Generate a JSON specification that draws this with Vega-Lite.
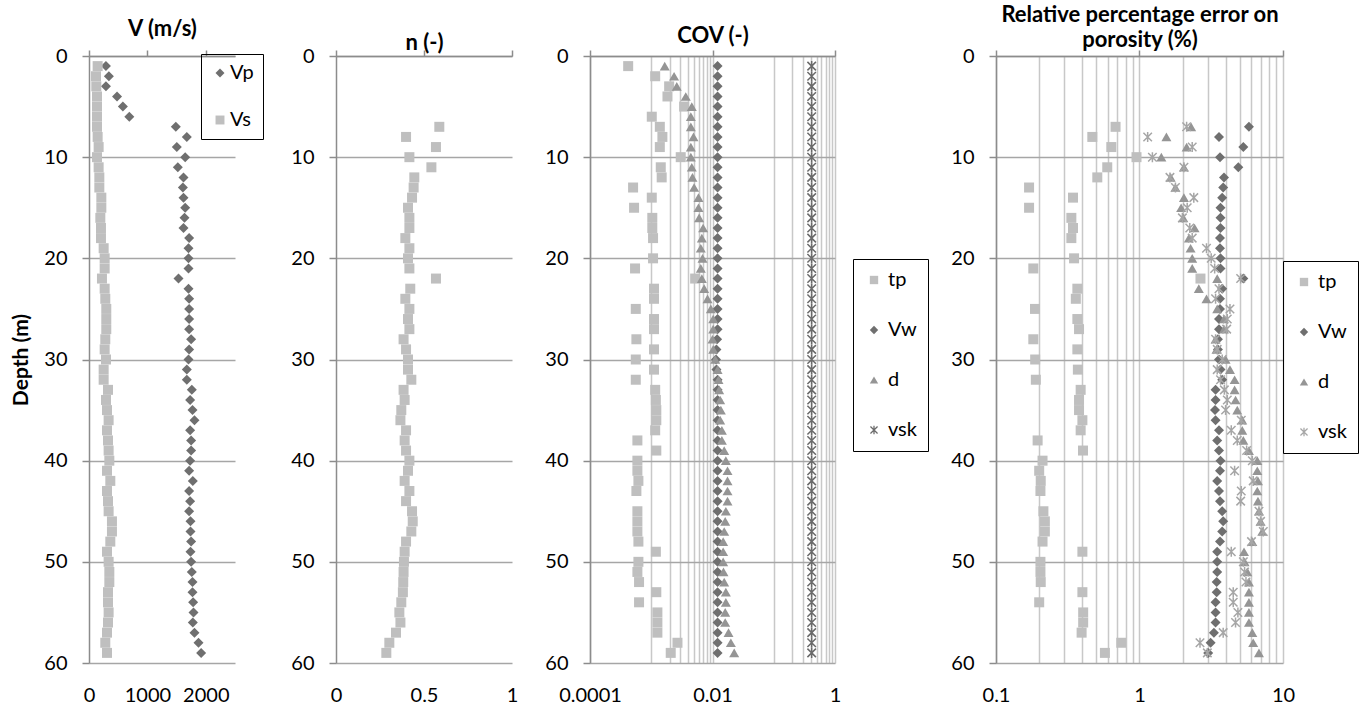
{
"$schema":"https://vega.github.io/schema/vega-lite/v6.json",
"background":"white",
"padding":{"left":10,"top":3,"right":5,"bottom":5},
"spacing":26,
"config":{
 "font":"Lato",
 "view":{"stroke":null},
 "axis":{"labelFont":"Lato","labelFontSize":20,"labelColor":"#000000","titleFont":"Lato","titleFontSize":22,"titleColor":"#000000","titleFontWeight":"bold","domainColor":"#8C8C8C","domainWidth":1.5,"tickColor":"#8C8C8C","tickWidth":1.5,"gridColor":"#C8C8C8","gridWidth":1.5,"gridOpacity":1,"labelFlush":false,"labelOverlap":false},
 "legend":{"labelFont":"Lato","labelFontSize":20,"labelColor":"#000000","strokeColor":"#000000","symbolStrokeWidth":0}
},
"resolve":{"scale":{"x":"independent","y":"independent","color":"independent","shape":"independent"},"legend":{"color":"independent","shape":"independent"}},
"datasets":{
"v":[
{"depth":1,"series":"Vp","value":290},{"depth":2,"series":"Vp","value":340},{"depth":3,"series":"Vp","value":290},{"depth":4,"series":"Vp","value":480},{"depth":5,"series":"Vp","value":580},{"depth":6,"series":"Vp","value":690},{"depth":7,"series":"Vp","value":1487},{"depth":8,"series":"Vp","value":1675},{"depth":9,"series":"Vp","value":1504},{"depth":10,"series":"Vp","value":1647},{"depth":11,"series":"Vp","value":1521},{"depth":12,"series":"Vp","value":1618},{"depth":13,"series":"Vp","value":1607},{"depth":14,"series":"Vp","value":1618},{"depth":15,"series":"Vp","value":1647},{"depth":16,"series":"Vp","value":1635},{"depth":17,"series":"Vp","value":1618},{"depth":18,"series":"Vp","value":1715},{"depth":19,"series":"Vp","value":1704},{"depth":20,"series":"Vp","value":1704},{"depth":21,"series":"Vp","value":1704},{"depth":22,"series":"Vp","value":1533},{"depth":23,"series":"Vp","value":1704},{"depth":24,"series":"Vp","value":1715},{"depth":25,"series":"Vp","value":1715},{"depth":26,"series":"Vp","value":1715},{"depth":27,"series":"Vp","value":1715},{"depth":28,"series":"Vp","value":1749},{"depth":29,"series":"Vp","value":1715},{"depth":30,"series":"Vp","value":1704},{"depth":31,"series":"Vp","value":1675},{"depth":32,"series":"Vp","value":1675},{"depth":33,"series":"Vp","value":1761},{"depth":34,"series":"Vp","value":1732},{"depth":35,"series":"Vp","value":1772},{"depth":36,"series":"Vp","value":1806},{"depth":37,"series":"Vp","value":1732},{"depth":38,"series":"Vp","value":1749},{"depth":39,"series":"Vp","value":1749},{"depth":40,"series":"Vp","value":1732},{"depth":41,"series":"Vp","value":1715},{"depth":42,"series":"Vp","value":1778},{"depth":43,"series":"Vp","value":1715},{"depth":44,"series":"Vp","value":1732},{"depth":45,"series":"Vp","value":1715},{"depth":46,"series":"Vp","value":1738},{"depth":47,"series":"Vp","value":1738},{"depth":48,"series":"Vp","value":1749},{"depth":49,"series":"Vp","value":1738},{"depth":50,"series":"Vp","value":1749},{"depth":51,"series":"Vp","value":1761},{"depth":52,"series":"Vp","value":1772},{"depth":53,"series":"Vp","value":1772},{"depth":54,"series":"Vp","value":1783},{"depth":55,"series":"Vp","value":1789},{"depth":56,"series":"Vp","value":1778},{"depth":57,"series":"Vp","value":1806},{"depth":58,"series":"Vp","value":1875},{"depth":59,"series":"Vp","value":1920},
{"depth":1,"series":"Vs","value":148},{"depth":2,"series":"Vs","value":120},{"depth":3,"series":"Vs","value":125},{"depth":4,"series":"Vs","value":137},{"depth":5,"series":"Vs","value":137},{"depth":6,"series":"Vs","value":137},{"depth":7,"series":"Vs","value":137},{"depth":8,"series":"Vs","value":148},{"depth":9,"series":"Vs","value":165},{"depth":10,"series":"Vs","value":137},{"depth":11,"series":"Vs","value":165},{"depth":12,"series":"Vs","value":177},{"depth":13,"series":"Vs","value":177},{"depth":14,"series":"Vs","value":211},{"depth":15,"series":"Vs","value":211},{"depth":16,"series":"Vs","value":194},{"depth":17,"series":"Vs","value":205},{"depth":18,"series":"Vs","value":205},{"depth":19,"series":"Vs","value":251},{"depth":20,"series":"Vs","value":268},{"depth":21,"series":"Vs","value":268},{"depth":22,"series":"Vs","value":222},{"depth":23,"series":"Vs","value":268},{"depth":24,"series":"Vs","value":279},{"depth":25,"series":"Vs","value":296},{"depth":26,"series":"Vs","value":296},{"depth":27,"series":"Vs","value":296},{"depth":28,"series":"Vs","value":279},{"depth":29,"series":"Vs","value":268},{"depth":30,"series":"Vs","value":291},{"depth":31,"series":"Vs","value":251},{"depth":32,"series":"Vs","value":251},{"depth":33,"series":"Vs","value":325},{"depth":34,"series":"Vs","value":291},{"depth":35,"series":"Vs","value":308},{"depth":36,"series":"Vs","value":336},{"depth":37,"series":"Vs","value":308},{"depth":38,"series":"Vs","value":325},{"depth":39,"series":"Vs","value":336},{"depth":40,"series":"Vs","value":348},{"depth":41,"series":"Vs","value":308},{"depth":42,"series":"Vs","value":365},{"depth":43,"series":"Vs","value":308},{"depth":44,"series":"Vs","value":325},{"depth":45,"series":"Vs","value":336},{"depth":46,"series":"Vs","value":393},{"depth":47,"series":"Vs","value":393},{"depth":48,"series":"Vs","value":365},{"depth":49,"series":"Vs","value":308},{"depth":50,"series":"Vs","value":336},{"depth":51,"series":"Vs","value":348},{"depth":52,"series":"Vs","value":348},{"depth":53,"series":"Vs","value":325},{"depth":54,"series":"Vs","value":325},{"depth":55,"series":"Vs","value":336},{"depth":56,"series":"Vs","value":325},{"depth":57,"series":"Vs","value":308},{"depth":58,"series":"Vs","value":279},{"depth":59,"series":"Vs","value":308}
],
"n":[
{"depth":7,"value":0.587},{"depth":8,"value":0.398},{"depth":9,"value":0.568},{"depth":10,"value":0.417},{"depth":11,"value":0.542},{"depth":12,"value":0.445},{"depth":13,"value":0.441},{"depth":14,"value":0.432},{"depth":15,"value":0.409},{"depth":16,"value":0.417},{"depth":17,"value":0.417},{"depth":18,"value":0.394},{"depth":19,"value":0.417},{"depth":20,"value":0.409},{"depth":21,"value":0.417},{"depth":22,"value":0.568},{"depth":23,"value":0.422},{"depth":24,"value":0.394},{"depth":25,"value":0.417},{"depth":26,"value":0.409},{"depth":27,"value":0.417},{"depth":28,"value":0.384},{"depth":29,"value":0.398},{"depth":30,"value":0.409},{"depth":31,"value":0.409},{"depth":32,"value":0.428},{"depth":33,"value":0.384},{"depth":34,"value":0.39},{"depth":35,"value":0.371},{"depth":36,"value":0.366},{"depth":37,"value":0.398},{"depth":38,"value":0.39},{"depth":39,"value":0.398},{"depth":40,"value":0.417},{"depth":41,"value":0.409},{"depth":42,"value":0.39},{"depth":43,"value":0.417},{"depth":44,"value":0.398},{"depth":45,"value":0.432},{"depth":46,"value":0.436},{"depth":47,"value":0.428},{"depth":48,"value":0.398},{"depth":49,"value":0.39},{"depth":50,"value":0.386},{"depth":51,"value":0.384},{"depth":52,"value":0.382},{"depth":53,"value":0.38},{"depth":54,"value":0.371},{"depth":55,"value":0.36},{"depth":56,"value":0.366},{"depth":57,"value":0.341},{"depth":58,"value":0.303},{"depth":59,"value":0.286}
],
"cov":[
{"depth":1,"series":"tp","value":0.00042},{"depth":2,"series":"tp","value":0.00116},{"depth":3,"series":"tp","value":0.00196},{"depth":4,"series":"tp","value":0.00184},{"depth":5,"series":"tp","value":0.00344},{"depth":6,"series":"tp","value":0.00102},{"depth":7,"series":"tp","value":0.00138},{"depth":8,"series":"tp","value":0.00152},{"depth":9,"series":"tp","value":0.00138},{"depth":10,"series":"tp","value":0.00303},{"depth":11,"series":"tp","value":0.00143},{"depth":12,"series":"tp","value":0.00148},{"depth":13,"series":"tp","value":0.000505},{"depth":14,"series":"tp","value":0.00102},{"depth":15,"series":"tp","value":0.000524},{"depth":16,"series":"tp","value":0.00104},{"depth":17,"series":"tp","value":0.00104},{"depth":18,"series":"tp","value":0.00107},{"depth":20,"series":"tp","value":0.00107},{"depth":21,"series":"tp","value":0.000544},{"depth":22,"series":"tp","value":0.00521},{"depth":23,"series":"tp","value":0.00111},{"depth":24,"series":"tp","value":0.00111},{"depth":25,"series":"tp","value":0.000559},{"depth":26,"series":"tp","value":0.00111},{"depth":27,"series":"tp","value":0.00111},{"depth":28,"series":"tp","value":0.000572},{"depth":29,"series":"tp","value":0.00111},{"depth":30,"series":"tp","value":0.000559},{"depth":31,"series":"tp","value":0.00111},{"depth":32,"series":"tp","value":0.000559},{"depth":33,"series":"tp","value":0.00116},{"depth":34,"series":"tp","value":0.00119},{"depth":35,"series":"tp","value":0.00121},{"depth":36,"series":"tp","value":0.00121},{"depth":37,"series":"tp","value":0.00116},{"depth":38,"series":"tp","value":0.000594},{"depth":39,"series":"tp","value":0.00121},{"depth":40,"series":"tp","value":0.000594},{"depth":41,"series":"tp","value":0.000594},{"depth":42,"series":"tp","value":0.000617},{"depth":43,"series":"tp","value":0.000572},{"depth":45,"series":"tp","value":0.000594},{"depth":46,"series":"tp","value":0.000594},{"depth":47,"series":"tp","value":0.000594},{"depth":48,"series":"tp","value":0.000617},{"depth":49,"series":"tp","value":0.00119},{"depth":50,"series":"tp","value":0.000617},{"depth":51,"series":"tp","value":0.000594},{"depth":52,"series":"tp","value":0.000632},{"depth":53,"series":"tp","value":0.00121},{"depth":54,"series":"tp","value":0.000632},{"depth":55,"series":"tp","value":0.00126},{"depth":56,"series":"tp","value":0.00126},{"depth":57,"series":"tp","value":0.00126},{"depth":58,"series":"tp","value":0.00268},{"depth":59,"series":"tp","value":0.00208},
{"depth":1,"series":"Vw","value":0.0121},{"depth":2,"series":"Vw","value":0.0121},{"depth":3,"series":"Vw","value":0.0121},{"depth":4,"series":"Vw","value":0.0121},{"depth":5,"series":"Vw","value":0.0121},{"depth":6,"series":"Vw","value":0.0121},{"depth":7,"series":"Vw","value":0.0121},{"depth":8,"series":"Vw","value":0.0121},{"depth":9,"series":"Vw","value":0.0121},{"depth":10,"series":"Vw","value":0.0121},{"depth":11,"series":"Vw","value":0.0121},{"depth":12,"series":"Vw","value":0.0121},{"depth":13,"series":"Vw","value":0.0121},{"depth":14,"series":"Vw","value":0.0121},{"depth":15,"series":"Vw","value":0.0121},{"depth":16,"series":"Vw","value":0.0121},{"depth":17,"series":"Vw","value":0.0121},{"depth":18,"series":"Vw","value":0.0121},{"depth":19,"series":"Vw","value":0.0121},{"depth":20,"series":"Vw","value":0.0121},{"depth":21,"series":"Vw","value":0.0121},{"depth":22,"series":"Vw","value":0.0121},{"depth":23,"series":"Vw","value":0.0121},{"depth":24,"series":"Vw","value":0.0121},{"depth":25,"series":"Vw","value":0.0121},{"depth":26,"series":"Vw","value":0.0121},{"depth":27,"series":"Vw","value":0.0121},{"depth":28,"series":"Vw","value":0.0119},{"depth":29,"series":"Vw","value":0.0116},{"depth":30,"series":"Vw","value":0.0114},{"depth":31,"series":"Vw","value":0.0116},{"depth":32,"series":"Vw","value":0.0121},{"depth":33,"series":"Vw","value":0.0121},{"depth":34,"series":"Vw","value":0.0121},{"depth":35,"series":"Vw","value":0.0121},{"depth":36,"series":"Vw","value":0.0121},{"depth":37,"series":"Vw","value":0.0121},{"depth":38,"series":"Vw","value":0.0121},{"depth":39,"series":"Vw","value":0.0121},{"depth":40,"series":"Vw","value":0.0121},{"depth":41,"series":"Vw","value":0.0121},{"depth":42,"series":"Vw","value":0.0121},{"depth":43,"series":"Vw","value":0.0121},{"depth":44,"series":"Vw","value":0.0121},{"depth":45,"series":"Vw","value":0.0121},{"depth":46,"series":"Vw","value":0.0121},{"depth":47,"series":"Vw","value":0.0121},{"depth":48,"series":"Vw","value":0.0121},{"depth":49,"series":"Vw","value":0.0121},{"depth":50,"series":"Vw","value":0.0121},{"depth":51,"series":"Vw","value":0.0121},{"depth":52,"series":"Vw","value":0.0121},{"depth":53,"series":"Vw","value":0.0121},{"depth":54,"series":"Vw","value":0.0121},{"depth":55,"series":"Vw","value":0.0121},{"depth":56,"series":"Vw","value":0.0121},{"depth":57,"series":"Vw","value":0.0121},{"depth":58,"series":"Vw","value":0.0121},{"depth":59,"series":"Vw","value":0.0121},
{"depth":1,"series":"d","value":0.00166},{"depth":2,"series":"d","value":0.00236},{"depth":3,"series":"d","value":0.00261},{"depth":4,"series":"d","value":0.00366},{"depth":5,"series":"d","value":0.00459},{"depth":6,"series":"d","value":0.00443},{"depth":7,"series":"d","value":0.00443},{"depth":8,"series":"d","value":0.00489},{"depth":9,"series":"d","value":0.00443},{"depth":10,"series":"d","value":0.00443},{"depth":11,"series":"d","value":0.00459},{"depth":12,"series":"d","value":0.00471},{"depth":13,"series":"d","value":0.00501},{"depth":14,"series":"d","value":0.0059},{"depth":15,"series":"d","value":0.0059},{"depth":16,"series":"d","value":0.00605},{"depth":17,"series":"d","value":0.00703},{"depth":18,"series":"d","value":0.0067},{"depth":19,"series":"d","value":0.00644},{"depth":20,"series":"d","value":0.00687},{"depth":21,"series":"d","value":0.00644},{"depth":22,"series":"d","value":0.0067},{"depth":23,"series":"d","value":0.00731},{"depth":24,"series":"d","value":0.00829},{"depth":25,"series":"d","value":0.0094},{"depth":26,"series":"d","value":0.01026},{"depth":27,"series":"d","value":0.01026},{"depth":28,"series":"d","value":0.01},{"depth":29,"series":"d","value":0.01026},{"depth":30,"series":"d","value":0.0111},{"depth":31,"series":"d","value":0.0121},{"depth":32,"series":"d","value":0.01254},{"depth":33,"series":"d","value":0.01285},{"depth":34,"series":"d","value":0.01334},{"depth":35,"series":"d","value":0.01368},{"depth":36,"series":"d","value":0.01334},{"depth":37,"series":"d","value":0.01422},{"depth":38,"series":"d","value":0.01422},{"depth":39,"series":"d","value":0.01552},{"depth":40,"series":"d","value":0.01652},{"depth":41,"series":"d","value":0.01758},{"depth":42,"series":"d","value":0.01758},{"depth":43,"series":"d","value":0.01758},{"depth":44,"series":"d","value":0.01758},{"depth":45,"series":"d","value":0.01652},{"depth":46,"series":"d","value":0.01611},{"depth":47,"series":"d","value":0.01552},{"depth":48,"series":"d","value":0.01493},{"depth":49,"series":"d","value":0.01493},{"depth":50,"series":"d","value":0.01493},{"depth":51,"series":"d","value":0.0151},{"depth":52,"series":"d","value":0.01552},{"depth":53,"series":"d","value":0.01652},{"depth":54,"series":"d","value":0.01652},{"depth":55,"series":"d","value":0.01611},{"depth":56,"series":"d","value":0.01611},{"depth":57,"series":"d","value":0.01827},{"depth":58,"series":"d","value":0.01995},{"depth":59,"series":"d","value":0.0226},
{"depth":1,"series":"vsk","value":0.416},{"depth":2,"series":"vsk","value":0.416},{"depth":3,"series":"vsk","value":0.416},{"depth":4,"series":"vsk","value":0.416},{"depth":5,"series":"vsk","value":0.416},{"depth":6,"series":"vsk","value":0.416},{"depth":7,"series":"vsk","value":0.416},{"depth":8,"series":"vsk","value":0.416},{"depth":9,"series":"vsk","value":0.416},{"depth":10,"series":"vsk","value":0.416},{"depth":11,"series":"vsk","value":0.416},{"depth":12,"series":"vsk","value":0.416},{"depth":13,"series":"vsk","value":0.416},{"depth":14,"series":"vsk","value":0.416},{"depth":15,"series":"vsk","value":0.416},{"depth":16,"series":"vsk","value":0.416},{"depth":17,"series":"vsk","value":0.416},{"depth":18,"series":"vsk","value":0.416},{"depth":19,"series":"vsk","value":0.416},{"depth":20,"series":"vsk","value":0.416},{"depth":21,"series":"vsk","value":0.416},{"depth":22,"series":"vsk","value":0.416},{"depth":23,"series":"vsk","value":0.416},{"depth":24,"series":"vsk","value":0.416},{"depth":25,"series":"vsk","value":0.416},{"depth":26,"series":"vsk","value":0.416},{"depth":27,"series":"vsk","value":0.416},{"depth":28,"series":"vsk","value":0.416},{"depth":29,"series":"vsk","value":0.416},{"depth":30,"series":"vsk","value":0.416},{"depth":31,"series":"vsk","value":0.416},{"depth":32,"series":"vsk","value":0.416},{"depth":33,"series":"vsk","value":0.416},{"depth":34,"series":"vsk","value":0.416},{"depth":35,"series":"vsk","value":0.416},{"depth":36,"series":"vsk","value":0.416},{"depth":37,"series":"vsk","value":0.416},{"depth":38,"series":"vsk","value":0.416},{"depth":39,"series":"vsk","value":0.416},{"depth":40,"series":"vsk","value":0.416},{"depth":41,"series":"vsk","value":0.416},{"depth":42,"series":"vsk","value":0.416},{"depth":43,"series":"vsk","value":0.416},{"depth":44,"series":"vsk","value":0.416},{"depth":45,"series":"vsk","value":0.416},{"depth":46,"series":"vsk","value":0.416},{"depth":47,"series":"vsk","value":0.416},{"depth":48,"series":"vsk","value":0.416},{"depth":49,"series":"vsk","value":0.416},{"depth":50,"series":"vsk","value":0.416},{"depth":51,"series":"vsk","value":0.416},{"depth":52,"series":"vsk","value":0.416},{"depth":53,"series":"vsk","value":0.416},{"depth":54,"series":"vsk","value":0.416},{"depth":55,"series":"vsk","value":0.416},{"depth":56,"series":"vsk","value":0.416},{"depth":57,"series":"vsk","value":0.416},{"depth":58,"series":"vsk","value":0.416},{"depth":59,"series":"vsk","value":0.416}
],
"err":[
{"depth":7,"series":"tp","value":0.681},{"depth":8,"series":"tp","value":0.469},{"depth":9,"series":"tp","value":0.636},{"depth":10,"series":"tp","value":0.953},{"depth":11,"series":"tp","value":0.596},{"depth":12,"series":"tp","value":0.508},{"depth":13,"series":"tp","value":0.17},{"depth":14,"series":"tp","value":0.344},{"depth":15,"series":"tp","value":0.17},{"depth":16,"series":"tp","value":0.335},{"depth":17,"series":"tp","value":0.344},{"depth":18,"series":"tp","value":0.335},{"depth":20,"series":"tp","value":0.35},{"depth":21,"series":"tp","value":0.182},{"depth":22,"series":"tp","value":2.66},{"depth":23,"series":"tp","value":0.369},{"depth":24,"series":"tp","value":0.36},{"depth":25,"series":"tp","value":0.187},{"depth":26,"series":"tp","value":0.369},{"depth":27,"series":"tp","value":0.379},{"depth":28,"series":"tp","value":0.182},{"depth":29,"series":"tp","value":0.369},{"depth":30,"series":"tp","value":0.1875},{"depth":31,"series":"tp","value":0.372},{"depth":32,"series":"tp","value":0.1895},{"depth":33,"series":"tp","value":0.389},{"depth":34,"series":"tp","value":0.379},{"depth":35,"series":"tp","value":0.379},{"depth":36,"series":"tp","value":0.4},{"depth":37,"series":"tp","value":0.389},{"depth":38,"series":"tp","value":0.195},{"depth":39,"series":"tp","value":0.404},{"depth":40,"series":"tp","value":0.211},{"depth":41,"series":"tp","value":0.2},{"depth":42,"series":"tp","value":0.205},{"depth":43,"series":"tp","value":0.204},{"depth":45,"series":"tp","value":0.214},{"depth":46,"series":"tp","value":0.219},{"depth":47,"series":"tp","value":0.219},{"depth":48,"series":"tp","value":0.211},{"depth":49,"series":"tp","value":0.4},{"depth":50,"series":"tp","value":0.204},{"depth":51,"series":"tp","value":0.204},{"depth":52,"series":"tp","value":0.205},{"depth":53,"series":"tp","value":0.4},{"depth":54,"series":"tp","value":0.2},{"depth":55,"series":"tp","value":0.405},{"depth":56,"series":"tp","value":0.405},{"depth":57,"series":"tp","value":0.395},{"depth":58,"series":"tp","value":0.746},{"depth":59,"series":"tp","value":0.574},
{"depth":7,"series":"Vw","value":5.79},{"depth":8,"series":"Vw","value":3.58},{"depth":9,"series":"Vw","value":5.29},{"depth":10,"series":"Vw","value":3.64},{"depth":11,"series":"Vw","value":4.88},{"depth":12,"series":"Vw","value":3.88},{"depth":13,"series":"Vw","value":3.83},{"depth":14,"series":"Vw","value":3.77},{"depth":15,"series":"Vw","value":3.67},{"depth":16,"series":"Vw","value":3.67},{"depth":17,"series":"Vw","value":3.67},{"depth":18,"series":"Vw","value":3.64},{"depth":19,"series":"Vw","value":3.64},{"depth":20,"series":"Vw","value":3.67},{"depth":21,"series":"Vw","value":3.67},{"depth":22,"series":"Vw","value":5.29},{"depth":23,"series":"Vw","value":3.77},{"depth":24,"series":"Vw","value":3.64},{"depth":25,"series":"Vw","value":3.64},{"depth":26,"series":"Vw","value":3.58},{"depth":27,"series":"Vw","value":3.58},{"depth":28,"series":"Vw","value":3.52},{"depth":29,"series":"Vw","value":3.52},{"depth":30,"series":"Vw","value":3.58},{"depth":31,"series":"Vw","value":3.67},{"depth":32,"series":"Vw","value":3.77},{"depth":33,"series":"Vw","value":3.39},{"depth":34,"series":"Vw","value":3.39},{"depth":35,"series":"Vw","value":3.36},{"depth":36,"series":"Vw","value":3.39},{"depth":37,"series":"Vw","value":3.58},{"depth":38,"series":"Vw","value":3.48},{"depth":39,"series":"Vw","value":3.58},{"depth":40,"series":"Vw","value":3.67},{"depth":41,"series":"Vw","value":3.64},{"depth":42,"series":"Vw","value":3.48},{"depth":43,"series":"Vw","value":3.58},{"depth":44,"series":"Vw","value":3.64},{"depth":45,"series":"Vw","value":3.77},{"depth":46,"series":"Vw","value":3.83},{"depth":47,"series":"Vw","value":3.77},{"depth":48,"series":"Vw","value":3.64},{"depth":49,"series":"Vw","value":3.48},{"depth":50,"series":"Vw","value":3.48},{"depth":51,"series":"Vw","value":3.48},{"depth":52,"series":"Vw","value":3.45},{"depth":53,"series":"Vw","value":3.45},{"depth":54,"series":"Vw","value":3.39},{"depth":55,"series":"Vw","value":3.39},{"depth":56,"series":"Vw","value":3.39},{"depth":57,"series":"Vw","value":3.3},{"depth":58,"series":"Vw","value":3.13},{"depth":59,"series":"Vw","value":3.01},
{"depth":7,"series":"d","value":2.29},{"depth":8,"series":"d","value":1.54},{"depth":9,"series":"d","value":2.13},{"depth":10,"series":"d","value":1.42},{"depth":11,"series":"d","value":2.04},{"depth":12,"series":"d","value":1.65},{"depth":13,"series":"d","value":1.78},{"depth":14,"series":"d","value":2.04},{"depth":15,"series":"d","value":1.95},{"depth":16,"series":"d","value":2.02},{"depth":17,"series":"d","value":2.42},{"depth":18,"series":"d","value":2.21},{"depth":19,"series":"d","value":2.27},{"depth":20,"series":"d","value":2.33},{"depth":21,"series":"d","value":2.33},{"depth":22,"series":"d","value":3.48},{"depth":23,"series":"d","value":2.59},{"depth":24,"series":"d","value":2.93},{"depth":25,"series":"d","value":3.48},{"depth":26,"series":"d","value":3.88},{"depth":27,"series":"d","value":3.88},{"depth":28,"series":"d","value":3.39},{"depth":29,"series":"d","value":3.44},{"depth":30,"series":"d","value":3.98},{"depth":31,"series":"d","value":4.27},{"depth":32,"series":"d","value":4.6},{"depth":33,"series":"d","value":4.6},{"depth":34,"series":"d","value":4.67},{"depth":35,"series":"d","value":4.8},{"depth":36,"series":"d","value":5.2},{"depth":37,"series":"d","value":5.2},{"depth":38,"series":"d","value":5.29},{"depth":39,"series":"d","value":5.79},{"depth":40,"series":"d","value":6.62},{"depth":41,"series":"d","value":6.62},{"depth":42,"series":"d","value":6.69},{"depth":43,"series":"d","value":6.62},{"depth":44,"series":"d","value":6.69},{"depth":45,"series":"d","value":6.8},{"depth":46,"series":"d","value":6.98},{"depth":47,"series":"d","value":7.17},{"depth":48,"series":"d","value":6.11},{"depth":49,"series":"d","value":5.35},{"depth":50,"series":"d","value":5.4},{"depth":51,"series":"d","value":5.64},{"depth":52,"series":"d","value":5.79},{"depth":53,"series":"d","value":5.79},{"depth":54,"series":"d","value":5.79},{"depth":55,"series":"d","value":5.79},{"depth":56,"series":"d","value":5.79},{"depth":57,"series":"d","value":6.11},{"depth":58,"series":"d","value":6.2},{"depth":59,"series":"d","value":6.8},
{"depth":7,"series":"vsk","value":2.13},{"depth":8,"series":"vsk","value":1.14},{"depth":9,"series":"vsk","value":2.33},{"depth":10,"series":"vsk","value":1.23},{"depth":11,"series":"vsk","value":2.04},{"depth":12,"series":"vsk","value":1.63},{"depth":13,"series":"vsk","value":1.78},{"depth":14,"series":"vsk","value":2.39},{"depth":15,"series":"vsk","value":2.15},{"depth":16,"series":"vsk","value":1.99},{"depth":17,"series":"vsk","value":2.24},{"depth":18,"series":"vsk","value":2.33},{"depth":19,"series":"vsk","value":2.93},{"depth":20,"series":"vsk","value":3.16},{"depth":21,"series":"vsk","value":3.34},{"depth":22,"series":"vsk","value":5.07},{"depth":23,"series":"vsk","value":3.58},{"depth":24,"series":"vsk","value":3.39},{"depth":25,"series":"vsk","value":4.27},{"depth":26,"series":"vsk","value":4.09},{"depth":27,"series":"vsk","value":4.05},{"depth":28,"series":"vsk","value":3.39},{"depth":29,"series":"vsk","value":3.48},{"depth":30,"series":"vsk","value":3.77},{"depth":31,"series":"vsk","value":3.48},{"depth":32,"series":"vsk","value":3.67},{"depth":33,"series":"vsk","value":3.9},{"depth":34,"series":"vsk","value":4.09},{"depth":35,"series":"vsk","value":3.98},{"depth":36,"series":"vsk","value":5.12},{"depth":37,"series":"vsk","value":4.36},{"depth":38,"series":"vsk","value":4.8},{"depth":39,"series":"vsk","value":5.58},{"depth":40,"series":"vsk","value":6.11},{"depth":41,"series":"vsk","value":4.6},{"depth":42,"series":"vsk","value":6.2},{"depth":43,"series":"vsk","value":5.12},{"depth":44,"series":"vsk","value":5.07},{"depth":45,"series":"vsk","value":6.8},{"depth":46,"series":"vsk","value":6.98},{"depth":47,"series":"vsk","value":7.29},{"depth":48,"series":"vsk","value":6.03},{"depth":49,"series":"vsk","value":4.36},{"depth":50,"series":"vsk","value":5.29},{"depth":51,"series":"vsk","value":5.4},{"depth":52,"series":"vsk","value":5.52},{"depth":53,"series":"vsk","value":4.5},{"depth":54,"series":"vsk","value":4.5},{"depth":55,"series":"vsk","value":4.85},{"depth":56,"series":"vsk","value":4.67},{"depth":57,"series":"vsk","value":3.83},{"depth":58,"series":"vsk","value":2.64},{"depth":59,"series":"vsk","value":2.97}
]
},
"hconcat":[
{
"spacing":26,
"resolve":{"scale":{"x":"independent","y":"independent","color":"independent","shape":"independent"},"legend":{"color":"independent","shape":"independent"}},
"hconcat":[
{
 "width":146,"height":607,
 "data":{"name":"v"},
 "encoding":{"y":{"field":"depth","type":"quantitative","scale":{"domain":[0,60],"reverse":true,"nice":false,"zero":false},"axis":{"values":[0,10,20,30,40,50,60],"format":"d","grid":true,"gridColor":"#A6A6A6","tickSize":7,"labelPadding":15,"title":"Depth (m)","titleFontSize":21,"titlePadding":12}}},
 "layer":[
  {"mark":{"type":"point","filled":true,"size":100,"opacity":1},
   "encoding":{
    "x":{"field":"value","type":"quantitative","scale":{"domain":[0,2500],"nice":false,"zero":false},"axis":{"orient":"top","values":[0,1000,2000],"labels":false,"grid":false,"tickSize":6,"title":"V (m/s)","titlePadding":9}},
    "shape":{"field":"series","type":"nominal","scale":{"domain":["Vp","Vs"],"range":["diamond","square"]},"legend":{"orient":"none","legendX":112,"legendY":-2,"title":null,"rowPadding":27,"padding":9,"symbolSize":80,"labelOffset":0}},
    "color":{"field":"series","type":"nominal","scale":{"domain":["Vp","Vs"],"range":["#6F6F6F","#BFBFBF"]},"legend":{"orient":"none","legendX":112,"legendY":-2,"title":null,"rowPadding":27,"padding":9,"symbolSize":80,"labelOffset":0}}}},
  {"mark":{"type":"point","opacity":0},
   "encoding":{"x":{"field":"value","type":"quantitative","scale":{"domain":[0,2500],"nice":false,"zero":false},"axis":{"orient":"bottom","values":[0,1000,2000],"format":"d","ticks":false,"tickSize":0,"domain":false,"grid":false,"labelPadding":22,"title":null}}}}
 ],
 "resolve":{"axis":{"x":"independent"}}
},
{
 "width":176,"height":607,
 "data":{"name":"n"},
 "encoding":{"y":{"field":"depth","type":"quantitative","scale":{"domain":[0,60],"reverse":true,"nice":false,"zero":false},"axis":{"values":[0,10,20,30,40,50,60],"format":"d","grid":true,"gridColor":"#A6A6A6","tickSize":7,"labelPadding":15,"title":null}}},
 "layer":[
  {"mark":{"type":"point","filled":true,"shape":"square","size":100,"opacity":1,"color":"#BFBFBF"},
   "encoding":{
    "x":{"field":"value","type":"quantitative","scale":{"domain":[0,1],"nice":false,"zero":false},"axis":{"orient":"top","values":[0,0.5,1],"labels":false,"grid":false,"tickSize":6,"title":"n (-)","titlePadding":-5}}}},
  {"mark":{"type":"point","opacity":0},
   "encoding":{"x":{"field":"value","type":"quantitative","scale":{"domain":[0,1],"nice":false,"zero":false},"axis":{"orient":"bottom","values":[0,0.5,1],"format":"~g","ticks":false,"tickSize":0,"domain":false,"grid":false,"labelPadding":22,"title":null}}}}
 ],
 "resolve":{"axis":{"x":"independent"}}
}
]
},
{
"spacing":21,
"resolve":{"scale":{"x":"independent","y":"independent","color":"independent","shape":"independent"},"legend":{"color":"independent","shape":"independent"}},
"hconcat":[
{
 "width":245,"height":607,
 "data":{"name":"cov"},
 "encoding":{"y":{"field":"depth","type":"quantitative","scale":{"domain":[0,60],"reverse":true,"nice":false,"zero":false},"axis":{"values":[0,10,20,30,40,50,60],"format":"d","grid":true,"gridColor":"#A6A6A6","tickSize":7,"labelPadding":15,"title":null}}},
 "layer":[
  {"mark":{"type":"point","opacity":0},
   "encoding":{"x":{"field":"value","type":"quantitative","scale":{"type":"log","domain":[0.0001,1],"nice":false},"axis":{"orient":"bottom","values":[0.0001,0.001,0.002,0.003,0.004,0.005,0.006,0.007,0.008,0.009,0.01,0.1,0.2,0.3,0.4,0.5,0.6,0.7,0.8,0.9,1],"format":"~g","labelExpr":"datum.value == 0.0001 || datum.value == 0.01 || datum.value == 1 ? datum.label : ''","ticks":false,"tickSize":0,"domain":false,"grid":true,"labelPadding":22,"title":null}}}},
  {"mark":{"type":"point","filled":true,"size":100,"opacity":1},
   "encoding":{
    "x":{"field":"value","type":"quantitative","scale":{"type":"log","domain":[0.0001,1],"nice":false},"axis":{"orient":"top","values":[0.0001,0.01,1],"labels":false,"grid":false,"tickSize":6,"title":"COV (-)","titlePadding":2}},
    "shape":{"field":"series","type":"nominal","scale":{"domain":["tp","Vw","d","vsk"],"range":["square","diamond","triangle-up","M-0.15,-1L0.15,-1L0.15,1L-0.15,1Z M-0.956,-0.744L-0.744,-0.956L0.956,0.744L0.744,0.956Z M-0.956,0.744L0.744,-0.956L0.956,-0.744L-0.744,0.956Z"]},"legend":{"orient":"none","legendX":263,"legendY":203,"title":null,"rowPadding":30,"padding":11,"symbolSize":70,"labelOffset":4}},
    "color":{"field":"series","type":"nominal","scale":{"domain":["tp","Vw","d","vsk"],"range":["#BFBFBF","#6F6F6F","#959595","#6A6A6A"]},"legend":{"orient":"none","legendX":263,"legendY":203,"title":null,"rowPadding":30,"padding":11,"symbolSize":70,"labelOffset":4}}}}
 ],
 "resolve":{"axis":{"x":"independent"}}
},
{
 "width":287,"height":607,
 "data":{"name":"err"},
 "encoding":{"y":{"field":"depth","type":"quantitative","scale":{"domain":[0,60],"reverse":true,"nice":false,"zero":false},"axis":{"values":[0,10,20,30,40,50,60],"format":"d","grid":true,"gridColor":"#A6A6A6","tickSize":7,"labelPadding":15,"title":null}}},
 "layer":[
  {"mark":{"type":"point","opacity":0},
   "encoding":{"x":{"field":"value","type":"quantitative","scale":{"type":"log","domain":[0.1,10],"nice":false},"axis":{"orient":"bottom","values":[0.1,0.2,0.3,0.4,0.5,0.6,0.7,0.8,0.9,1,2,3,4,5,6,7,8,9,10],"format":"~g","labelExpr":"datum.value == 0.1 || datum.value == 1 || datum.value == 10 ? datum.label : ''","ticks":false,"tickSize":0,"domain":false,"grid":true,"labelPadding":22,"title":null}}}},
  {"mark":{"type":"point","filled":true,"size":100,"opacity":1},
   "encoding":{
    "x":{"field":"value","type":"quantitative","scale":{"type":"log","domain":[0.1,10],"nice":false},"axis":{"orient":"top","values":[0.1,1,10],"labels":false,"grid":false,"tickSize":6,"title":["Relative percentage error on","porosity (%)"],"titleLineHeight":25,"titlePadding":-2}},
    "shape":{"field":"series","type":"nominal","scale":{"domain":["tp","Vw","d","vsk"],"range":["square","diamond","triangle-up","M-0.15,-1L0.15,-1L0.15,1L-0.15,1Z M-0.956,-0.744L-0.744,-0.956L0.956,0.744L0.744,0.956Z M-0.956,0.744L0.744,-0.956L0.956,-0.744L-0.744,0.956Z"]},"legend":{"orient":"none","legendX":287,"legendY":205,"title":null,"rowPadding":30,"padding":11,"symbolSize":70,"labelOffset":4}},
    "color":{"field":"series","type":"nominal","scale":{"domain":["tp","Vw","d","vsk"],"range":["#BFBFBF","#6F6F6F","#959595","#A6A6A6"]},"legend":{"orient":"none","legendX":287,"legendY":205,"title":null,"rowPadding":30,"padding":11,"symbolSize":70,"labelOffset":4}}}}
 ],
 "resolve":{"axis":{"x":"independent"}}
}
]
}
]
}
